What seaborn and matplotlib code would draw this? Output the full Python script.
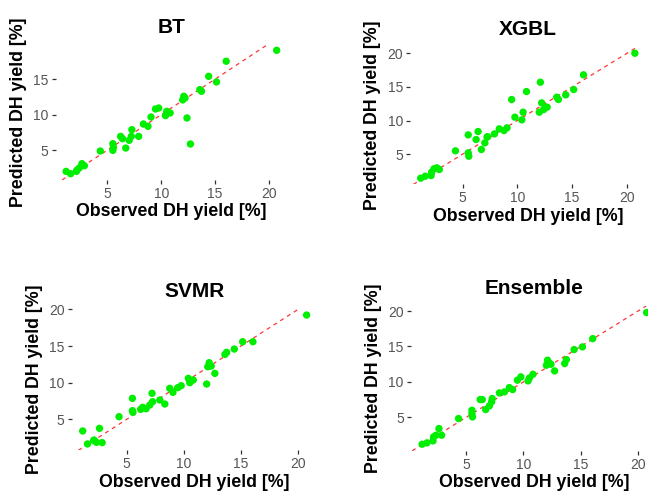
import matplotlib
matplotlib.use("Agg")
import matplotlib.pyplot as plt
import pandas as pd
import seaborn as sns

# Observed DH yield [%] (shared by all models)
observed = [1.15, 1.57, 2.10, 2.15, 2.36, 2.62, 2.85, 4.33, 5.50, 5.50, 5.55,
            6.22, 6.40, 6.70, 7.02, 7.22, 7.27, 7.90, 8.34, 8.77, 9.05, 9.47,
            9.77, 10.40, 10.52, 10.83, 12.00, 12.10, 12.22, 12.40, 12.72,
            13.60, 13.75, 14.42, 15.15, 16.05, 20.75]

# Predicted DH yield [%] per model
pred_bt = [1.98, 1.65, 1.98, 2.15, 2.45, 3.07, 2.78, 4.86, 5.90, 4.95, 5.40,
           6.93, 6.60, 5.28, 6.37, 6.93, 7.88, 6.93, 8.68, 8.35, 9.67, 10.80,
           10.94, 9.86, 10.47, 10.24, 12.08, 12.60, 12.36, 9.53, 5.85,
           13.54, 13.30, 15.42, 14.62, 17.55, 19.10]
pred_xgbl = [1.41, 1.70, 1.80, 2.30, 2.80, 2.95, 2.70, 5.48, 7.86, 5.18, 4.68,
             7.17, 8.36, 5.68, 6.67, 7.52, 7.60, 8.01, 8.76, 8.51, 8.91, 13.13,
             10.50, 10.10, 11.24, 14.32, 11.24, 15.71, 12.63, 11.64, 11.99,
             13.48, 13.13, 13.83, 14.62, 16.81, 20.03]
pred_svmr = [3.41, 1.64, 2.10, 2.18, 1.86, 3.77, 1.82, 5.36, 7.86, 6.18, 5.95,
             6.36, 6.64, 6.45, 6.95, 8.55, 7.41, 7.64, 7.09, 9.23, 8.68, 9.32,
             9.59, 10.59, 10.00, 10.36, 9.82, 12.18, 12.73, 12.27, 11.27,
             13.86, 14.14, 14.59, 15.59, 15.59, 19.23]
pred_ensemble = [1.21, 1.40, 1.68, 2.24, 2.48, 3.42, 2.48, 4.83, 6.00, 5.53, 5.06,
                 7.51, 7.51, 6.10, 6.61, 7.20, 7.65, 8.45, 8.59, 9.20, 8.92, 10.24,
                 10.71, 10.14, 10.56, 11.08, 12.35, 13.06, 12.73, 12.49, 11.55,
                 12.59, 13.15, 14.56, 14.94, 16.11, 19.78]

model_names = ["BT", "XGBL", "SVMR", "Ensemble"]
predictions = [pred_bt, pred_xgbl, pred_svmr, pred_ensemble]
tick_values = [5, 10, 15, 20]

sns.set_style("white")
plt.rcParams["font.family"] = ["Liberation Sans", "DejaVu Sans"]

W, H = 648, 497
fig = plt.figure(figsize=(W / 100, H / 100), dpi=100)

# Panel rectangles in pixels: left, top, right, bottom
panel_px = [
    (55.6, 44.1, 287.2, 179.9),
    (410.0, 47.0, 645.6, 184.4),
    (71.5, 308.6, 317.8, 450.4),
    (410.9, 306.0, 657.8, 450.8),
]


def expanded(values, frac=0.05):
    lo, hi = min(values), max(values)
    pad = frac * (hi - lo)
    return lo - pad, hi + pad


for name, pred, (l, t, r, b) in zip(model_names, predictions, panel_px):
    ax = fig.add_axes([l / W, 1 - b / H, (r - l) / W, (b - t) / H])
    df = pd.DataFrame({"observed": observed, "predicted": pred})

    ax.axline((0, 0), slope=1, color="#FF2020", lw=0.9,
              linestyle=(0, (3.2, 3.2)), alpha=0.9, zorder=1)
    sns.scatterplot(data=df, x="observed", y="predicted", ax=ax,
                    color="#00EE00", s=28, edgecolor="none", zorder=2)

    xlo, xhi = expanded(observed)
    ylo, yhi = expanded(pred)
    ax.set_xlim(xlo, xhi)
    ax.set_ylim(ylo, yhi)
    ax.set_xticks([v for v in tick_values if xlo <= v <= xhi])
    ax.set_yticks([v for v in tick_values if ylo <= v <= yhi])

    ax.tick_params(axis="both", bottom=True, left=True, direction="out",
                   length=2.6, width=0.9, color="#333333",
                   labelcolor="#555555", labelsize=10, pad=2.5)
    ax.set_xlabel("Observed DH yield [%]", fontsize=12.8,
                  fontweight="bold", color="black", labelpad=1.5)
    ax.set_ylabel("Predicted DH yield [%]", fontsize=12.8,
                  fontweight="bold", color="black", labelpad=4.5)
    ax.set_title(name, fontsize=15, fontweight="bold", color="black", pad=8.3)
    ax.grid(False)
    sns.despine(ax=ax, left=True, bottom=True)

fig.savefig("out.png", dpi=100)
